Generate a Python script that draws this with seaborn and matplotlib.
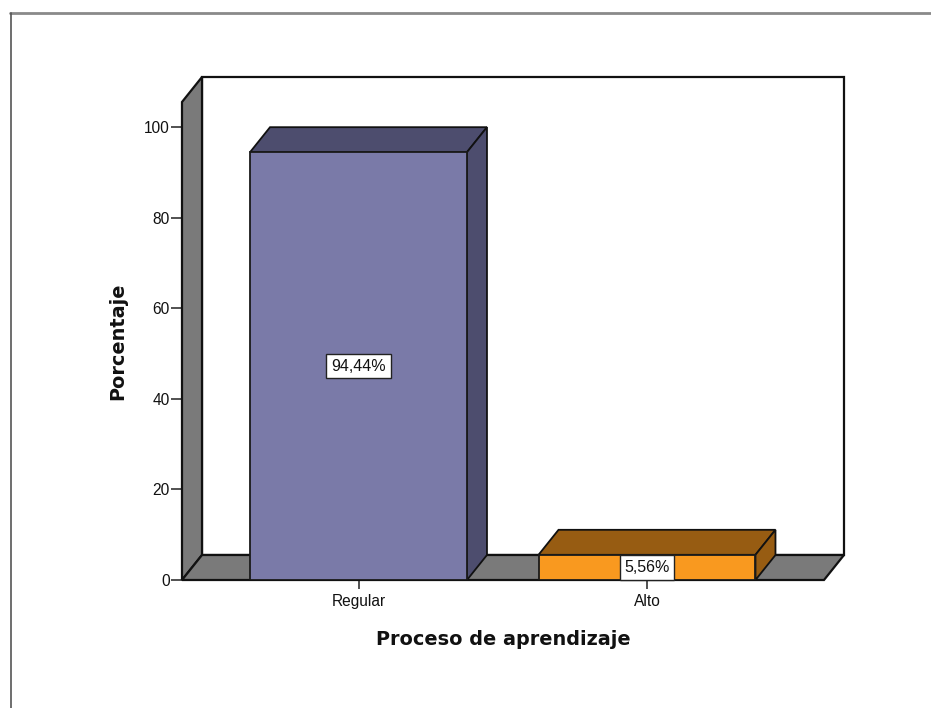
import matplotlib
matplotlib.use('Agg')
import matplotlib.pyplot as plt
import pandas as pd
import seaborn as sns
from matplotlib.lines import Line2D
from matplotlib.patches import Polygon

categories = ['Regular', 'Alto']
percent = [94.44, 5.56]
labels = ['94,44%', '5,56%']
y_ticks = [0, 20, 40, 60, 80, 100]
front_colors = ['#7a7aa8', '#f9991f']
top_colors = ['#4d4d6e', '#975c12']

W, H = 931, 708
sns.set_theme(style='white')
plt.rcParams['font.family'] = ['Liberation Sans', 'DejaVu Sans']

fig = plt.figure(figsize=(W / 100, H / 100), dpi=100, facecolor='white')
# front plane of the chart, in pixels: x 182-824, y 102-580
ax = fig.add_axes([182 / W, 1 - 580 / H, 642 / W, 478 / H])
ax.patch.set_alpha(0)

df = pd.DataFrame({'cat': categories, 'pct': percent})
sns.barplot(data=df, x='cat', y='pct', hue='cat', palette=front_colors, legend=False,
            width=0.752, edgecolor='#1a1a1a', linewidth=1.3, saturation=1, ax=ax, zorder=5)

x0, x1 = (182 - 358.5) / 288.5, (824 - 358.5) / 288.5
y1 = 478 / 4.53
ax.set_xlim(x0, x1)
ax.set_ylim(0, y1)

# fake 3d depth
dx, dy = 20 / 288.5, 25 / 4.53
edge = dict(edgecolor='#111111', linewidth=1.6, clip_on=False)
ax.add_patch(Polygon([(x0 + dx, dy), (x1 + dx, dy), (x1 + dx, y1 + dy), (x0 + dx, y1 + dy)],
                     facecolor='white', zorder=1, **edge))
ax.add_patch(Polygon([(x0, 0), (x0 + dx, dy), (x0 + dx, y1 + dy), (x0, y1)],
                     facecolor='#7a7a7a', zorder=2, **edge))
ax.add_patch(Polygon([(x0, 0), (x1, 0), (x1 + dx, dy), (x0 + dx, dy)],
                     facecolor='#7a7a7a', zorder=2, **edge))

for bar, top_c, txt in zip(ax.patches[:2], top_colors, labels):
    bx, bw, bh = bar.get_x(), bar.get_width(), bar.get_height()
    side = dict(facecolor=top_c, edgecolor='#111111', linewidth=1.3, clip_on=False, zorder=4)
    ax.add_patch(Polygon([(bx, bh), (bx + bw, bh), (bx + bw + dx, bh + dy), (bx + dx, bh + dy)], **side))
    ax.add_patch(Polygon([(bx + bw, 0), (bx + bw + dx, dy), (bx + bw + dx, bh + dy), (bx + bw, bh)], **side))
    ax.text(bx + bw / 2, bh / 2, txt, ha='center', va='center', fontsize=11.5, color='#111111', zorder=7,
            bbox=dict(facecolor='white', edgecolor='#222222', linewidth=1, boxstyle='square,pad=0.3'))

ax.set_yticks(y_ticks)
ax.tick_params(axis='y', length=8, width=1.1, color='#222222', labelsize=11.2, labelcolor='#111111', pad=1, left=True)
ax.tick_params(axis='x', length=6.5, width=1.1, color='#222222', labelsize=11.2, labelcolor='#111111', pad=3.5, bottom=True)
for s in ['top', 'right', 'bottom', 'left']:
    ax.spines[s].set_visible(False)

ax.set_xlabel('Proceso de aprendizaje', fontsize=13.9, fontweight='bold', family='DejaVu Sans',
              color='#111111', labelpad=15)
ax.set_ylabel('Porcentaje', fontsize=13.9, fontweight='bold', family='DejaVu Sans', color='#111111', va='center')
ax.yaxis.set_label_coords((118 - 182) / 642, (580 - 341) / 478)

# window frame of the screenshot
fig.add_artist(Line2D([10 / W, 1], [1 - 12.5 / H] * 2, color='#8a8a8a', linewidth=2))
fig.add_artist(Line2D([11 / W] * 2, [0, 1 - 12.5 / H], color='#555555', linewidth=1.2))

fig.savefig('out.png', dpi=100)
